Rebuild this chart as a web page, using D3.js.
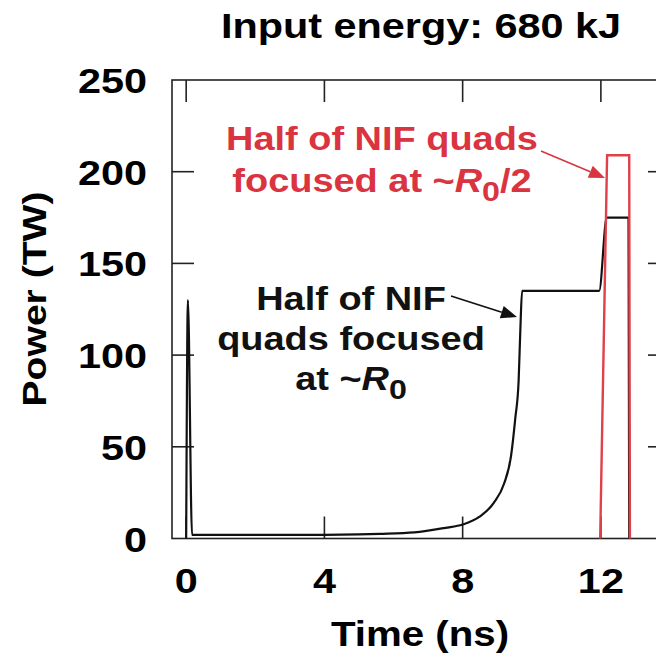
<!DOCTYPE html>
<html>
<head>
<meta charset="utf-8">
<script src="https://cdn.jsdelivr.net/npm/d3@7"></script>
<style>
  html, body { margin: 0; padding: 0; background: #fff; }
  svg { display: block; }
  text { font-family: "Liberation Sans", Arial, Helvetica, sans-serif; font-weight: bold; }
</style>
</head>
<body>
<div id="chart"></div>
<script>
// pulse shape
const blackTime  = [0, 0.05, 0.17, 1, 2, 3, 4, 5, 5.6, 6.6, 7.5, 8.0, 8.5, 8.9, 9.2, 9.4, 9.52, 9.62, 9.67, 9.72, 11.95, 12.17, 12.8, 12.82];
const blackPower = [0, 130, 2, 2, 2, 2, 2, 2.2, 2.5, 3.3, 5.8, 7.6, 12, 19.4, 30, 45, 65, 86, 114, 135, 135, 175, 175, 0];
const redTime  = [11.98, 12.18, 12.82, 12.84];
const redPower = [0, 209, 209, 0];

const xTicks = [0, 4, 8, 12];
const yTicks = [0, 50, 100, 150, 200, 250];

const W = 656, H = 656;
const SX = 1.15; // the original lettering runs wider than Arial

const svg = d3.select("#chart").append("svg")
  .attr("width", W).attr("height", H);

const x = d3.scaleLinear().domain([-0.41, 14]).range([172, 670]);
const y = d3.scaleLinear().domain([0, 250]).range([538.5, 80]);

const label = (txt, px, py, size, anchor = "middle", rot = 0) =>
  svg.append("text")
    .attr("transform", `translate(${px},${py}) rotate(${rot}) scale(${SX},1)`)
    .attr("font-size", size)
    .attr("text-anchor", anchor)
    .text(txt);

// frame (right side runs off the picture)
svg.append("rect")
  .attr("x", x.range()[0]).attr("y", y.range()[1])
  .attr("width", x.range()[1] - x.range()[0])
  .attr("height", y.range()[0] - y.range()[1])
  .attr("fill", "none").attr("stroke", "#222").attr("stroke-width", 1.6);

// inward ticks on all four sides
const tickLen = 22;
const tk = svg.append("g").attr("stroke", "#222").attr("stroke-width", 1.6);
xTicks.forEach((t) => {
  tk.append("line").attr("x1", x(t)).attr("x2", x(t)).attr("y1", y(250)).attr("y2", y(250) + tickLen);
  tk.append("line").attr("x1", x(t)).attr("x2", x(t)).attr("y1", y(0)).attr("y2", y(0) - tickLen);
});
yTicks.slice(1, -1).forEach((v) => {
  tk.append("line").attr("x1", x.range()[0]).attr("x2", x.range()[0] + tickLen).attr("y1", y(v)).attr("y2", y(v));
  tk.append("line").attr("x1", x.range()[1]).attr("x2", x.range()[1] - tickLen).attr("y1", y(v)).attr("y2", y(v));
});

// tick labels
yTicks.forEach((v) => label(v, 147, y(v) + 13, 36, "end"));
xTicks.forEach((t) => label(t, x(t), 593, 36));

// titles
label("Input energy: 680 kJ", 421, 38, 36);
label("Time (ns)", 420, 646, 35);
label("Power (TW)", 46, 299, 34, "middle", -90);

// curves
const line = d3.line().x((d) => x(d[0])).y((d) => y(d[1])).curve(d3.curveMonotoneX);
const redLine = d3.line().x((d) => x(d[0])).y((d) => y(d[1]));

svg.append("path")
  .datum(blackTime.map((t, i) => [t, blackPower[i]]))
  .attr("d", line)
  .attr("fill", "none").attr("stroke", "#111").attr("stroke-width", 2.2)
  .attr("stroke-linejoin", "round");

svg.append("path")
  .datum(redTime.map((t, i) => [t, redPower[i]]))
  .attr("d", redLine)
  .attr("fill", "none").attr("stroke", "#e0404a").attr("stroke-width", 2.4);

// annotations
const RED = "#d9343f";

const note = (lines, cx, cy, gap, color) => {
  const t = svg.append("text")
    .attr("transform", `translate(${cx},${cy}) scale(${SX},1)`)
    .attr("font-size", 33).attr("text-anchor", "middle").attr("fill", color);
  lines.forEach((ln, i) => {
    const row = t.append("tspan").attr("x", 0).attr("y", i * gap);
    ln.forEach((part) => {
      const s = row.append("tspan").text(part.t);
      if (part.it) s.attr("font-style", "italic");
      if (part.sub) s.attr("dy", 9).attr("font-size", 28);
      if (part.up) s.attr("dy", -9);
    });
  });
};

note([
  [{t: "Half of NIF quads"}],
  [{t: "focused at ~"}, {t: "R", it: true}, {t: "0", sub: true}, {t: "/2", up: true}]
], 382, 150, 42, RED);

note([
  [{t: "Half of NIF"}],
  [{t: "quads focused"}],
  [{t: "at ~"}, {t: "R", it: true}, {t: "0", sub: true}]
], 351, 310, 40, "#111");

const arrow = (x1, y1, x2, y2, color) => {
  const a = Math.atan2(y2 - y1, x2 - x1), L = 16, w = 6.5;
  const bx = x2 - L * Math.cos(a), by = y2 - L * Math.sin(a);
  svg.append("line")
    .attr("x1", x1).attr("y1", y1).attr("x2", bx).attr("y2", by)
    .attr("stroke", color).attr("stroke-width", 1.6);
  svg.append("path")
    .attr("d", `M${x2},${y2}L${bx - w * Math.sin(a)},${by + w * Math.cos(a)}L${bx + w * Math.sin(a)},${by - w * Math.cos(a)}Z`)
    .attr("fill", color);
};

arrow(451, 296, 517, 317, "#111");
arrow(541, 151, 605, 178, RED);
</script>
</body>
</html>
